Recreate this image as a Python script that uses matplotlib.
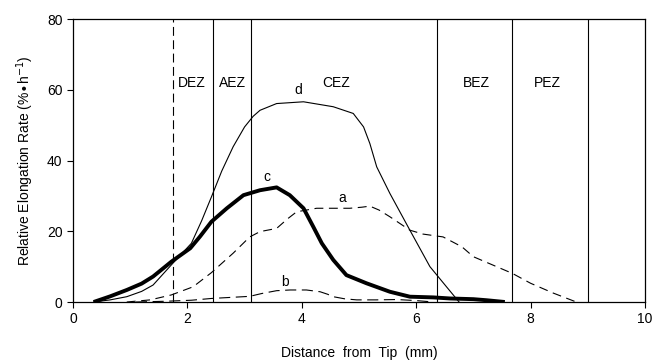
import numpy as np
import matplotlib
matplotlib.use("Agg")
import matplotlib.pyplot as plt

plt.rcParams["font.family"] = ["Liberation Sans", "DejaVu Sans"]
plt.rcParams["font.size"] = 10

# zone boundaries (mm)
dashed_bounds = [1.74]
solid_bounds = [2.44, 3.12, 6.37, 7.68, 9.01]
zone_names = ["DEZ", "AEZ", "CEZ", "BEZ", "PEZ"]
zone_x = [2.08, 2.79, 4.6, 7.05, 8.3]
zone_y = 62

# curve a (dashed)
a_x = [0.94, 1.35, 1.72, 2.10, 2.42, 2.80, 3.09, 3.27, 3.56, 3.75, 3.91, 4.26, 4.84, 5.05, 5.19, 5.35, 5.54, 5.89, 6.12, 6.47, 6.8, 7.0, 7.68, 8.0, 8.4, 8.8]
a_y = [0, 0.6, 2.0, 4.3, 8.3, 13.8, 18.4, 19.9, 20.8, 23.5, 25.5, 26.5, 26.5, 26.8, 27.1, 26.0, 24.1, 20.3, 19.2, 18.4, 15.6, 12.8, 8.1, 5.3, 2.5, 0]

# curve b (dashed, small)
b_x = [1.1, 1.6, 2.07, 2.42, 3.09, 3.3, 3.56, 3.8, 4.08, 4.32, 4.45, 4.55, 4.75, 4.96, 5.3, 5.66, 6.0, 6.3]
b_y = [0, 0.2, 0.5, 1.0, 1.6, 2.4, 3.2, 3.4, 3.4, 2.9, 2.2, 1.5, 0.9, 0.6, 0.6, 0.7, 0.4, 0]

# curve c (thick solid)
c_x = [0.36, 0.65, 0.94, 1.2, 1.40, 1.72, 2.05, 2.22, 2.42, 2.69, 2.98, 3.27, 3.56, 3.79, 4.03, 4.2, 4.35, 4.55, 4.78, 5.13, 5.54, 5.89, 6.3, 6.59, 7.0, 7.23, 7.55]
c_y = [0, 1.6, 3.4, 5.2, 7.2, 11.4, 15.2, 18.5, 22.7, 26.5, 30.2, 31.6, 32.4, 30.2, 26.5, 21.3, 16.6, 11.9, 7.6, 5.3, 2.9, 1.5, 1.3, 1.0, 0.8, 0.5, 0]

# curve d (thin solid)
d_x = [0.36, 0.65, 0.94, 1.2, 1.40, 1.72, 2.07, 2.25, 2.42, 2.6, 2.80, 3.0, 3.15, 3.27, 3.56, 4.03, 4.55, 4.90, 5.08, 5.19, 5.31, 5.54, 5.89, 6.24, 6.53, 6.75]
d_y = [0, 0.6, 1.5, 3.0, 4.8, 10.5, 16.6, 23.0, 29.7, 37.0, 43.9, 49.5, 52.5, 54.2, 56.1, 56.6, 55.2, 53.3, 49.5, 44.8, 38.2, 30.7, 20.3, 10.0, 4.3, 0]

labels = ["a", "b", "c", "d"]
label_x = [4.7, 3.71, 3.39, 3.94]
label_y = [29.3, 5.7, 35.4, 60.0]

fig = plt.figure(figsize=(6.53, 3.6), dpi=100)
ax = fig.add_axes([0.1118, 0.1611, 0.8759, 0.7861])

for xb in dashed_bounds:
    ax.axvline(xb, color="black", lw=0.8, ls=(0, (8, 4)))
for xb in solid_bounds:
    ax.axvline(xb, color="black", lw=0.8)

ax.plot(a_x, a_y, color="black", lw=0.8, ls=(0, (8, 5)))
ax.plot(b_x, b_y, color="black", lw=0.8, ls=(0, (10, 5)))
ax.plot(c_x, c_y, color="black", lw=2.8, solid_capstyle="butt", solid_joinstyle="round")
ax.plot(d_x, d_y, color="black", lw=0.8)

for name, zx in zip(zone_names, zone_x):
    ax.text(zx, zone_y, name, ha="center", va="center", fontsize=10)
for lab, lx, ly in zip(labels, label_x, label_y):
    ax.text(lx, ly, lab, ha="center", va="center", fontsize=10)

ax.set_xlim(0, 10)
ax.set_ylim(0, 80)
ax.set_xticks([0, 2, 4, 6, 8, 10])
ax.set_yticks([0, 20, 40, 60, 80])
ax.tick_params(direction="out", length=4, width=0.8, labelsize=10)
for s in ax.spines.values():
    s.set_linewidth(0.9)

ax.set_xlabel("Distance  from  Tip  (mm)", fontsize=10, labelpad=14)
ax.set_ylabel("Relative Elongation Rate (%$\\bullet$h$^{-1}$)", fontsize=10, labelpad=8)

fig.savefig("out.png", dpi=100)
